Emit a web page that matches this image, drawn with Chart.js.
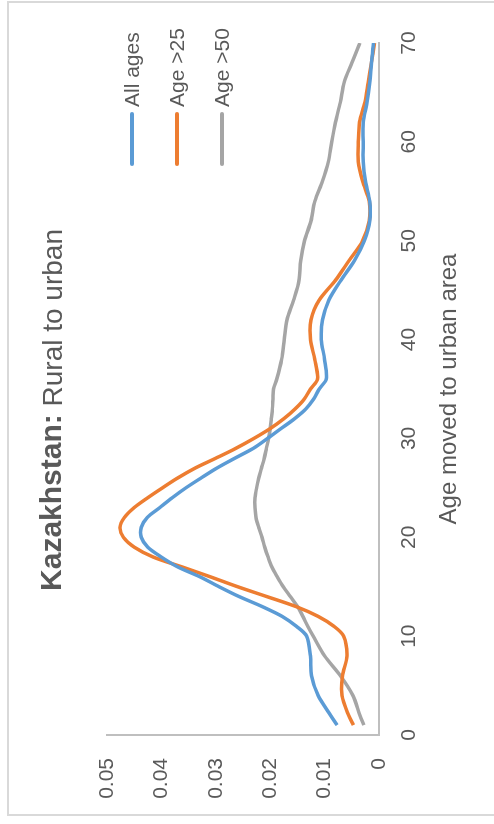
<!DOCTYPE html>
<html>
<head>
<meta charset="utf-8">
<script src="https://cdn.jsdelivr.net/npm/chart.js@4.4.1/dist/chart.umd.min.js"></script>
<style>
  body { margin: 0; background: #fff; overflow: hidden; width: 494px; height: 824px; position: relative; }
  #frame { position: absolute; left: 7px; top: 1px; width: 600px; height: 815px; border: 2px solid #d9d9d9; box-sizing: border-box; }
  #wrap { position: absolute; left: 0; top: 0; width: 824px; height: 494px; transform-origin: 0 0; transform: translateY(824px) rotate(-90deg); }
</style>
</head>
<body>
<div id="frame"></div>
<div id="wrap"><canvas id="chart" width="824" height="494"></canvas></div>
<script>
var ages = [1, 2, 4, 6, 8, 10, 11, 12, 13, 14, 15, 16, 17, 18, 19, 20, 21, 22, 23, 24, 25, 26, 27, 28, 29, 30,
            31, 32, 33, 34, 35, 36, 38, 40, 42, 44, 46, 48, 50, 52, 54, 56, 58, 60, 62, 64, 66, 68, 70];

var allAges = [0.0077, 0.0089, 0.0112, 0.0124, 0.0126, 0.0133, 0.0152, 0.0178, 0.0215, 0.0257, 0.0294, 0.0329, 0.0370,
               0.0400, 0.0425, 0.0437, 0.0437, 0.0426, 0.0403, 0.0380, 0.0355, 0.0327, 0.0298, 0.0265, 0.0231, 0.0205,
               0.0180, 0.0155, 0.0134, 0.0120, 0.0110, 0.0097, 0.0100, 0.0106, 0.0104, 0.0092, 0.0070, 0.0045, 0.0027,
               0.0017, 0.0017, 0.0025, 0.0029, 0.0029, 0.0029, 0.0022, 0.0017, 0.0014, 0.0010];

var age25 = [0.0047, 0.0056, 0.0068, 0.0067, 0.0059, 0.0065, 0.0083, 0.0112, 0.0153, 0.0206, 0.0260, 0.0310, 0.0362,
             0.0415, 0.0450, 0.0470, 0.0476, 0.0468, 0.0450, 0.0425, 0.0398, 0.0370, 0.0338, 0.0300, 0.0263, 0.0230,
             0.0200, 0.0175, 0.0154, 0.0137, 0.0126, 0.0113, 0.0118, 0.0126, 0.0125, 0.0110, 0.0080, 0.0055, 0.0030,
             0.0018, 0.0018, 0.0030, 0.0038, 0.0038, 0.0036, 0.0026, 0.0020, 0.0014, 0.0008];

var age50 = [0.0028, 0.0035, 0.0048, 0.0071, 0.0100, 0.0121, 0.0131, 0.0140, 0.0150, 0.0163, 0.0176, 0.0187, 0.0197,
             0.0204, 0.0210, 0.0215, 0.0221, 0.0226, 0.0228, 0.0228, 0.0225, 0.0221, 0.0216, 0.0211, 0.0207, 0.0203,
             0.0200, 0.0198, 0.0196, 0.0195, 0.0194, 0.0188, 0.0179, 0.0174, 0.0169, 0.0157, 0.0147, 0.0144, 0.0137,
             0.0125, 0.0118, 0.0104, 0.0093, 0.0087, 0.0080, 0.0071, 0.0064, 0.0050, 0.0035];

var seriesNames = ['All ages', 'Age >25', 'Age >50'];
var seriesColors = ['#5b9bd5', '#ed7d31', '#a5a5a5'];
var xTicks = [0, 10, 20, 30, 40, 50, 60, 70];
var yTicks = [0, 0.01, 0.02, 0.03, 0.04, 0.05];

var FONT = '"Liberation Sans", Arial, sans-serif';
var TEXT = '#595959';

function pts(vals) {
  return ages.map(function(a, i) { return { x: a, y: vals[i] }; });
}

// title with bold country name
var titlePlugin = {
  id: 'splitTitle',
  afterDraw: function(chart) {
    var ctx = chart.ctx;
    var a = 'Kazakhstan:', b = ' Rural to urban';
    ctx.save();
    ctx.fillStyle = TEXT;
    ctx.textBaseline = 'middle';
    ctx.font = 'bold 30px ' + FONT;
    var wa = ctx.measureText(a).width;
    ctx.font = '28px ' + FONT;
    var wb = ctx.measureText(b).width;
    var cx = (chart.chartArea.left + chart.chartArea.right) / 2 - 21;
    var x0 = cx - (wa + wb) / 2;
    ctx.font = 'bold 30px ' + FONT;
    ctx.fillText(a, x0, 53);
    ctx.font = '28px ' + FONT;
    ctx.fillText(b, x0 + wa, 54);
    ctx.restore();
  }
};

// legend sits inside the plot, near the top right
var legendPlugin = {
  id: 'innerLegend',
  afterDraw: function(chart) {
    var ctx = chart.ctx;
    ctx.save();
    ctx.font = '21px ' + FONT;
    ctx.textBaseline = 'middle';
    chart.data.datasets.forEach(function(ds, i) {
      var y = 132 + i * 45;
      ctx.strokeStyle = ds.borderColor;
      ctx.lineWidth = 4;
      ctx.lineCap = 'round';
      ctx.beginPath();
      ctx.moveTo(660, y);
      ctx.lineTo(710, y);
      ctx.stroke();
      ctx.fillStyle = TEXT;
      ctx.fillText(ds.label, 717, y + 1);
    });
    ctx.restore();
  }
};

var datasets = [allAges, age25, age50].map(function(vals, i) {
  return {
    label: seriesNames[i],
    data: pts(vals),
    borderColor: seriesColors[i],
    backgroundColor: seriesColors[i],
    borderWidth: 3.5,
    pointRadius: 0,
    tension: 0.3,
    fill: false
  };
});

var ctx = document.getElementById('chart').getContext('2d');
var myChart = new Chart(ctx, {
  type: 'line',
  data: { datasets: datasets },
  options: {
    responsive: false,
    animation: false,
    devicePixelRatio: 1,
    layout: { padding: { top: 107, right: 43, left: 0, bottom: 0 } },
    plugins: {
      legend: { display: false },
      title: { display: false },
      tooltip: { enabled: false }
    },
    scales: {
      x: {
        type: 'linear',
        min: 0,
        max: 70,
        afterFit: function(s) { s.height = 115; },
        afterBuildTicks: function(s) { s.ticks = xTicks.map(function(v) { return { value: v }; }); },
        grid: { display: false, drawTicks: false },
        border: { display: true, color: '#bfbfbf', width: 2 },
        ticks: { color: TEXT, padding: 18, font: { family: FONT, size: 21 }, maxRotation: 0 },
        title: {
          display: true,
          text: 'Age moved to urban area',
          color: TEXT,
          font: { family: FONT, size: 24 },
          padding: { top: 0, bottom: 30 }
        }
      },
      y: {
        min: 0,
        max: 0.05,
        afterFit: function(s) { s.width = 89; },
        afterBuildTicks: function(s) { s.ticks = yTicks.map(function(v) { return { value: v }; }); },
        grid: { display: false, drawTicks: false },
        border: { display: true, color: '#bfbfbf', width: 2 },
        ticks: {
          color: TEXT,
          padding: 23,
          font: { family: FONT, size: 21 },
          callback: function(v) { return String(+v.toFixed(2)); }
        }
      }
    }
  },
  plugins: [titlePlugin, legendPlugin]
});
</script>
</body>
</html>
